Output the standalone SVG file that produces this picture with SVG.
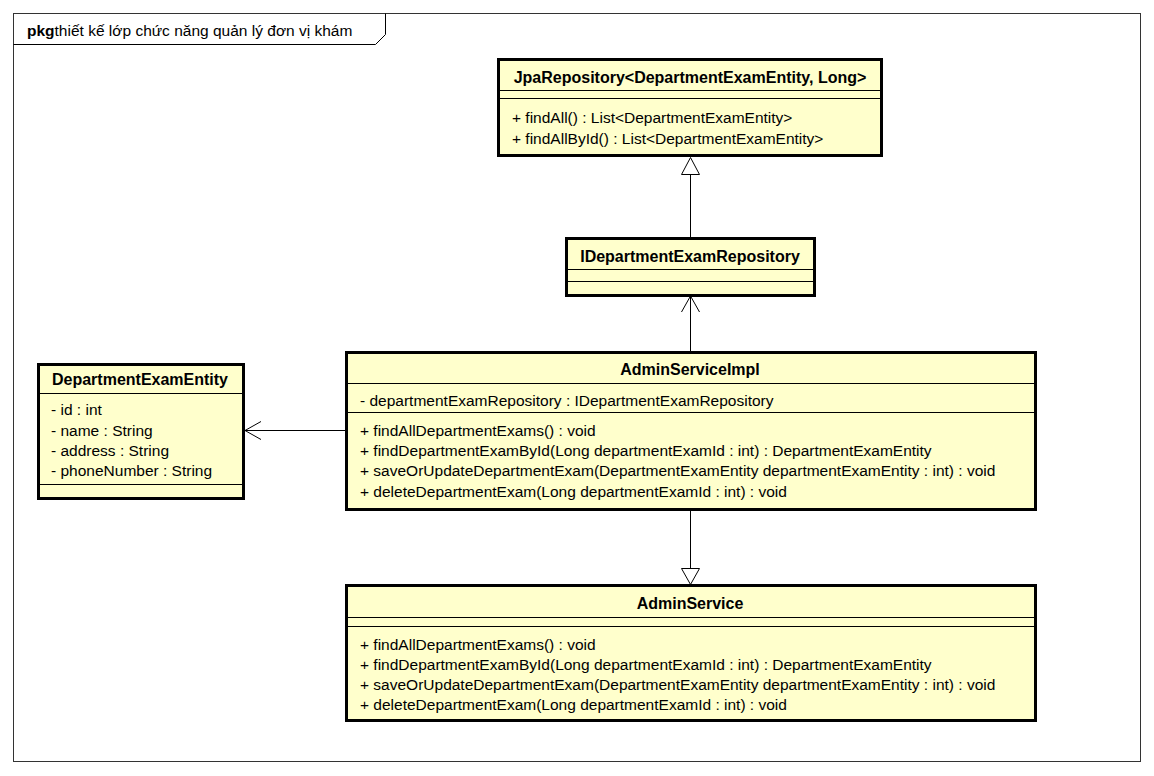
<svg xmlns="http://www.w3.org/2000/svg" width="1154" height="776" viewBox="0 0 1154 776">
  <style>
    .box { fill: #ffffcc; stroke: #000; stroke-width: 3; }
    .sep { stroke: #000; stroke-width: 1; }
    .title { font-family: "Liberation Sans", Arial, sans-serif; font-size: 16px; font-weight: bold; text-anchor: middle; fill: #000; }
    .member { font-family: "Liberation Sans", Arial, sans-serif; font-size: 15.5px; fill: #000; }
    .edge { stroke: #000; stroke-width: 1; fill: none; }
    .hollow { stroke: #000; stroke-width: 1; fill: #fff; }
    .frame { fill: #fff; stroke: #333; stroke-width: 1; }
    .frametext { font-family: "Liberation Sans", Arial, sans-serif; font-size: 15.5px; fill: #000; }
  </style>

  <rect width="1154" height="776" fill="#fff"/>

  <!-- package frame -->
  <g id="package">
    <rect class="frame" x="13.5" y="13.5" width="1127" height="748"/>
    <path class="edge" d="M13.5,44.5 H375.5 L385.5,34.5 V13.5" stroke="#333"/>
    <text class="frametext" x="27" y="36"><tspan font-weight="bold">pkg</tspan>thiết kế lớp chức năng quản lý đơn vị khám</text>
  </g>

  <!-- connectors -->
  <g id="connectors">
    <!-- IDepartmentExamRepository generalizes JpaRepository -->
    <line class="edge" x1="690.5" y1="238" x2="690.5" y2="174"/>
    <polygon class="hollow" points="690.5,157.5 681.5,174.5 699.5,174.5"/>
    <!-- AdminServiceImpl uses IDepartmentExamRepository -->
    <line class="edge" x1="690.5" y1="352" x2="690.5" y2="296"/>
    <polyline class="edge" points="681.5,312 690.5,296 699.5,312"/>
    <!-- AdminServiceImpl uses DepartmentExamEntity -->
    <line class="edge" x1="346" y1="430.5" x2="245" y2="430.5"/>
    <polyline class="edge" points="261,421.5 245,430.5 261,439.5"/>
    <!-- AdminServiceImpl realizes AdminService -->
    <line class="edge" x1="690.5" y1="510" x2="690.5" y2="569"/>
    <polygon class="hollow" points="690.5,584.5 681.5,568.5 699.5,568.5"/>
  </g>

  <g id="JpaRepository">
    <rect class="box" x="498.5" y="59.5" width="383" height="96"/>
    <text class="title" x="690" y="83">JpaRepository&lt;DepartmentExamEntity, Long&gt;</text>
    <line class="sep" x1="498" y1="90.5" x2="882" y2="90.5"/>
    <line class="sep" x1="498" y1="98.5" x2="882" y2="98.5"/>
    <text class="member" x="512" y="123">+ findAll() : List&lt;DepartmentExamEntity&gt;</text>
    <text class="member" x="512" y="144">+ findAllById() : List&lt;DepartmentExamEntity&gt;</text>
  </g>

  <g id="IDepartmentExamRepository">
    <rect class="box" x="566.5" y="238.5" width="248" height="57"/>
    <text class="title" x="690" y="262">IDepartmentExamRepository</text>
    <line class="sep" x1="566" y1="269.5" x2="815" y2="269.5"/>
    <line class="sep" x1="566" y1="281.5" x2="815" y2="281.5"/>
  </g>

  <g id="DepartmentExamEntity">
    <rect class="box" x="38.5" y="364.5" width="205" height="134"/>
    <text class="title" x="140" y="385">DepartmentExamEntity</text>
    <line class="sep" x1="38" y1="393.5" x2="244" y2="393.5"/>
    <text class="member" x="51" y="415">- id : int</text>
    <text class="member" x="51" y="436">- name : String</text>
    <text class="member" x="51" y="456">- address : String</text>
    <text class="member" x="51" y="476">- phoneNumber : String</text>
    <line class="sep" x1="38" y1="484.5" x2="244" y2="484.5"/>
  </g>

  <g id="AdminServiceImpl">
    <rect class="box" x="346.5" y="352.5" width="689" height="157"/>
    <text class="title" x="690" y="375">AdminServiceImpl</text>
    <line class="sep" x1="346" y1="383.5" x2="1036" y2="383.5"/>
    <text class="member" x="360" y="406">- departmentExamRepository : IDepartmentExamRepository</text>
    <line class="sep" x1="346" y1="412.5" x2="1036" y2="412.5"/>
    <text class="member" x="360" y="436">+ findAllDepartmentExams() : void</text>
    <text class="member" x="360" y="456">+ findDepartmentExamById(Long departmentExamId : int) : DepartmentExamEntity</text>
    <text class="member" x="360" y="476">+ saveOrUpdateDepartmentExam(DepartmentExamEntity departmentExamEntity : int) : void</text>
    <text class="member" x="360" y="497">+ deleteDepartmentExam(Long departmentExamId : int) : void</text>
  </g>

  <g id="AdminService">
    <rect class="box" x="346.5" y="585.5" width="689" height="135"/>
    <text class="title" x="690" y="609">AdminService</text>
    <line class="sep" x1="346" y1="617.5" x2="1036" y2="617.5"/>
    <line class="sep" x1="346" y1="626.5" x2="1036" y2="626.5"/>
    <text class="member" x="360" y="650">+ findAllDepartmentExams() : void</text>
    <text class="member" x="360" y="670">+ findDepartmentExamById(Long departmentExamId : int) : DepartmentExamEntity</text>
    <text class="member" x="360" y="690">+ saveOrUpdateDepartmentExam(DepartmentExamEntity departmentExamEntity : int) : void</text>
    <text class="member" x="360" y="710">+ deleteDepartmentExam(Long departmentExamId : int) : void</text>
  </g>
</svg>
